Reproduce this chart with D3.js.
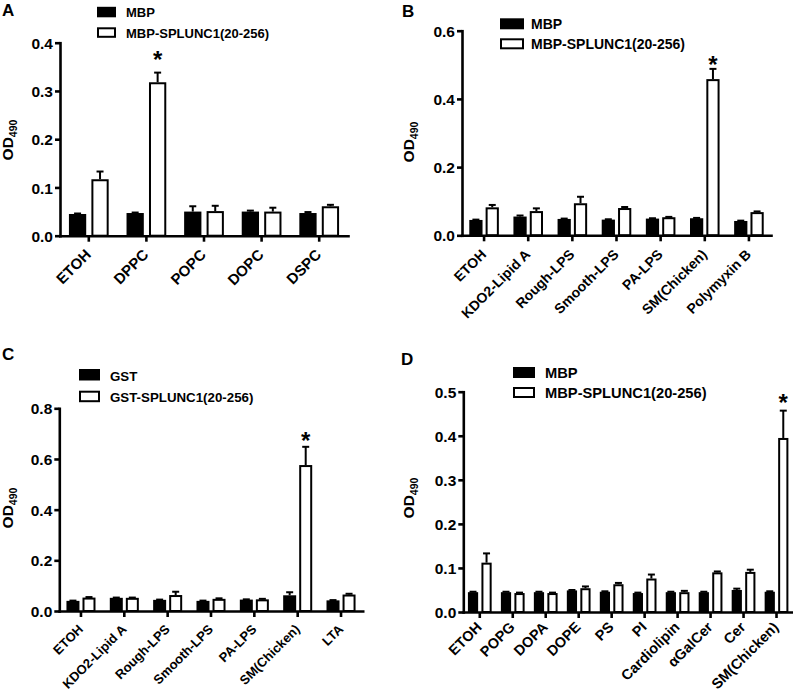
<!DOCTYPE html>
<html><head><meta charset="utf-8">
<script src="https://cdn.jsdelivr.net/npm/d3@7"></script>
<style>
body{margin:0;background:#fff}
text{font-family:"Liberation Sans",Arial,sans-serif;font-weight:bold;fill:#000}
</style>
</head><body><svg id="c" width="793" height="693"></svg>
<script>
// ---------- Panel A ----------
const catsA = ["ETOH","DPPC","POPC","DOPC","DSPC"];
const ctrlA = [0.045,0.047,0.050,0.050,0.047];
const ctrlErrA = [0.001,0.001,0.011,0.002,0.002];
const splA = [0.117,0.318,0.051,0.050,0.061];
const splErrA = [0.016,0.020,0.011,0.008,0.003];
const ticksA = [0,0.1,0.2,0.3,0.4];
const seriesA = ["MBP","MBP-SPLUNC1(20-256)"];
const starA = ["DPPC"];

// ---------- Panel B ----------
const catsB = ["ETOH","KDO2-Lipid A","Rough-LPS","Smooth-LPS","PA-LPS","SM(Chicken)","Polymyxin B"];
const ctrlB = [0.045,0.055,0.048,0.046,0.049,0.050,0.042];
const ctrlErrB = [0.001,0.003,0.001,0.001,0.001,0.001,0.001];
const splB = [0.082,0.071,0.094,0.080,0.053,0.458,0.068];
const splErrB = [0.007,0.008,0.019,0.003,0.001,0.030,0.002];
const ticksB = [0,0.2,0.4,0.6];
const seriesB = ["MBP","MBP-SPLUNC1(20-256)"];
const starB = ["SM(Chicken)"];

// ---------- Panel C ----------
const catsC = ["ETOH","KDO2-Lipid A","Rough-LPS","Smooth-LPS","PA-LPS","SM(Chicken)","LTA"];
const ctrlC = [0.040,0.052,0.044,0.040,0.045,0.062,0.042];
const ctrlErrC = [0.001,0.001,0.001,0.001,0.001,0.012,0.001];
const splC = [0.053,0.052,0.063,0.048,0.046,0.576,0.065];
const splErrC = [0.002,0.001,0.013,0.002,0.002,0.072,0.003];
const ticksC = [0,0.2,0.4,0.6,0.8];
const seriesC = ["GST","GST-SPLUNC1(20-256)"];
const starC = ["SM(Chicken)"];

// ---------- Panel D ----------
const catsD = ["ETOH","POPG","DOPA","DOPE","PS","PI","Cardiolipin","αGalCer","Cer","SM(Chicken)"];
const ctrlD = [0.045,0.045,0.045,0.049,0.046,0.043,0.045,0.045,0.050,0.046];
const ctrlErrD = [0.001,0.001,0.001,0.001,0.001,0.001,0.001,0.001,0.003,0.001];
const splD = [0.112,0.043,0.043,0.054,0.063,0.076,0.045,0.090,0.091,0.395];
const splErrD = [0.021,0.001,0.001,0.004,0.003,0.009,0.003,0.002,0.005,0.062];
const ticksD = [0,0.1,0.2,0.3,0.4,0.5];
const seriesD = ["MBP","MBP-SPLUNC1(20-256)"];
const starD = ["SM(Chicken)"];

const svg = d3.select("#c");
const fmt = d3.format(".1f");

function panel(o){
  const g = svg.append("g");
  const x = d3.scaleBand().domain(o.cats).range([o.x0,o.x1]).padding(0);
  const y = d3.scaleLinear().domain([0,d3.max(o.ticks)]).range([o.y0,o.yTop]);
  const step = x.step(), bw = step*o.bwf, gap = step*o.gapf;
  const cx = c => x(c)+step/2;
  const rows = o.cats.map((c,i)=>({c, v0:o.ctrl[i], e0:o.ctrlErr[i], v1:o.spl[i], e1:o.splErr[i]}));
  const capW = 7;

  const eb = g.append("g").attr("stroke","#000").attr("stroke-width",2).attr("fill","none");
  rows.forEach(r=>{
    [[cx(r.c)-gap/2-bw/2, r.v0, r.e0],[cx(r.c)+gap/2+bw/2, r.v1, r.e1]].forEach(([xc,v,e])=>{
      eb.append("line").attr("x1",xc).attr("x2",xc).attr("y1",y(v)).attr("y2",y(v+e));
      eb.append("line").attr("x1",xc-capW/2).attr("x2",xc+capW/2).attr("y1",y(v+e)).attr("y2",y(v+e));
    });
  });
  g.append("g").selectAll("rect").data(rows).join("rect")
    .attr("x",d=>cx(d.c)-gap/2-bw).attr("width",bw)
    .attr("y",d=>y(d.v0)).attr("height",d=>o.y0-y(d.v0))
    .attr("fill","#000");
  g.append("g").selectAll("rect").data(rows).join("rect")
    .attr("x",d=>cx(d.c)+gap/2+1).attr("width",bw-2)
    .attr("y",d=>y(d.v1)+1).attr("height",d=>o.y0-y(d.v1)-1)
    .attr("fill","#fff").attr("stroke","#000").attr("stroke-width",2);

  rows.filter(r=>o.star.includes(r.c)).forEach(r=>{
    g.append("text").attr("x",cx(r.c)+gap/2+bw/2).attr("y",y(r.v1+r.e1)-o.starOff+14)
      .attr("text-anchor","middle").attr("font-size",24).text("*");
  });

  const ya = g.append("g").attr("transform",`translate(${o.x0},0)`)
    .call(d3.axisLeft(y).tickValues(o.ticks).tickFormat(fmt).tickSize(5).tickSizeOuter(0).tickPadding(2));
  ya.select(".domain").attr("stroke-width",2.6);
  ya.selectAll(".tick line").attr("stroke-width",2.6);
  ya.selectAll(".tick text").attr("font-size",15.5).attr("dy","0.36em");
  const xa = g.append("g").attr("transform",`translate(0,${o.y0})`)
    .call(d3.axisBottom(x).tickSize(6).tickSizeOuter(0));
  xa.select(".domain").attr("stroke-width",2.6);
  xa.selectAll(".tick line").attr("stroke-width",2.6);
  xa.selectAll(".tick text").attr("font-size",o.xfs)
    .attr("x",0).attr("y",0).attr("dy",null).attr("text-anchor","end")
    .attr("transform",`translate(3,${o.xlDy}) rotate(-45)`);
  g.selectAll(".domain").attr("stroke-linecap","square");

  const ylg = g.append("g").attr("transform",`translate(${o.ylx},${o.ylcy}) rotate(-90)`);
  const yl = ylg.append("text").attr("x",0).attr("y",0).attr("text-anchor","middle");
  yl.append("tspan").style("font-size","15.5px").text("OD");
  yl.append("tspan").style("font-size","10.5px").attr("dy",4).text("490");

  g.append("text").attr("x",o.px).attr("y",o.py).attr("font-size",17).text(o.letter);

  const L = o.leg;
  o.series.forEach((s,i)=>{
    const top = L.y + i*L.row;
    if(i===0) g.append("rect").attr("x",L.x).attr("y",top).attr("width",L.w).attr("height",L.h).attr("fill","#000");
    else g.append("rect").attr("x",L.x+1).attr("y",top+1).attr("width",L.w-2).attr("height",L.h-2)
      .attr("fill","#fff").attr("stroke","#000").attr("stroke-width",2);
    g.append("text").attr("x",L.tx).attr("y",top+L.h).attr("font-size",L.fs).text(s);
  });
}

panel({letter:"A",px:2,py:15.5,cats:catsA,ctrl:ctrlA,ctrlErr:ctrlErrA,spl:splA,splErr:splErrA,ticks:ticksA,series:seriesA,star:starA,
  x0:60,x1:348,y0:235.7,yTop:42.7,bwf:0.3,gapf:0.09,starOff:19,xfs:15,xlDy:20,ylx:13,ylcy:140,
  leg:{x:97,y:6.8,w:19,h:10.5,row:20.5,tx:126,fs:13}});
panel({letter:"B",px:402,py:16.7,cats:catsB,ctrl:ctrlB,ctrlErr:ctrlErrB,spl:splB,splErr:splErrB,ticks:ticksB,series:seriesB,star:starB,
  x0:462,x1:771,y0:235.3,yTop:30.7,bwf:0.3,gapf:0.07,starOff:10,xfs:14,xlDy:20,ylx:414,ylcy:142,
  leg:{x:500,y:18.3,w:24,h:11,row:20,tx:531,fs:14}});
panel({letter:"C",px:2,py:360,cats:catsC,ctrl:ctrlC,ctrlErr:ctrlErrC,spl:splC,splErr:splErrC,ticks:ticksC,series:seriesC,star:starC,
  x0:59.3,x1:362.7,y0:611,yTop:408.3,bwf:0.3,gapf:0.07,starOff:12,xfs:13,xlDy:19,ylx:13,ylcy:508,
  leg:{x:79,y:369,w:21,h:11.5,row:21.7,tx:110,fs:13.3}});
panel({letter:"D",px:401,py:365,cats:catsD,ctrl:ctrlD,ctrlErr:ctrlErrD,spl:splD,splErr:splErrD,ticks:ticksD,series:seriesD,star:starD,
  x0:463.3,x1:793,y0:612,yTop:391.7,bwf:0.31,gapf:0.1,starOff:14,xfs:14.5,xlDy:16,ylx:414,ylcy:498,
  leg:{x:513,y:367,w:22,h:11,row:20,tx:545,fs:14.7}});
</script>
</body></html>
